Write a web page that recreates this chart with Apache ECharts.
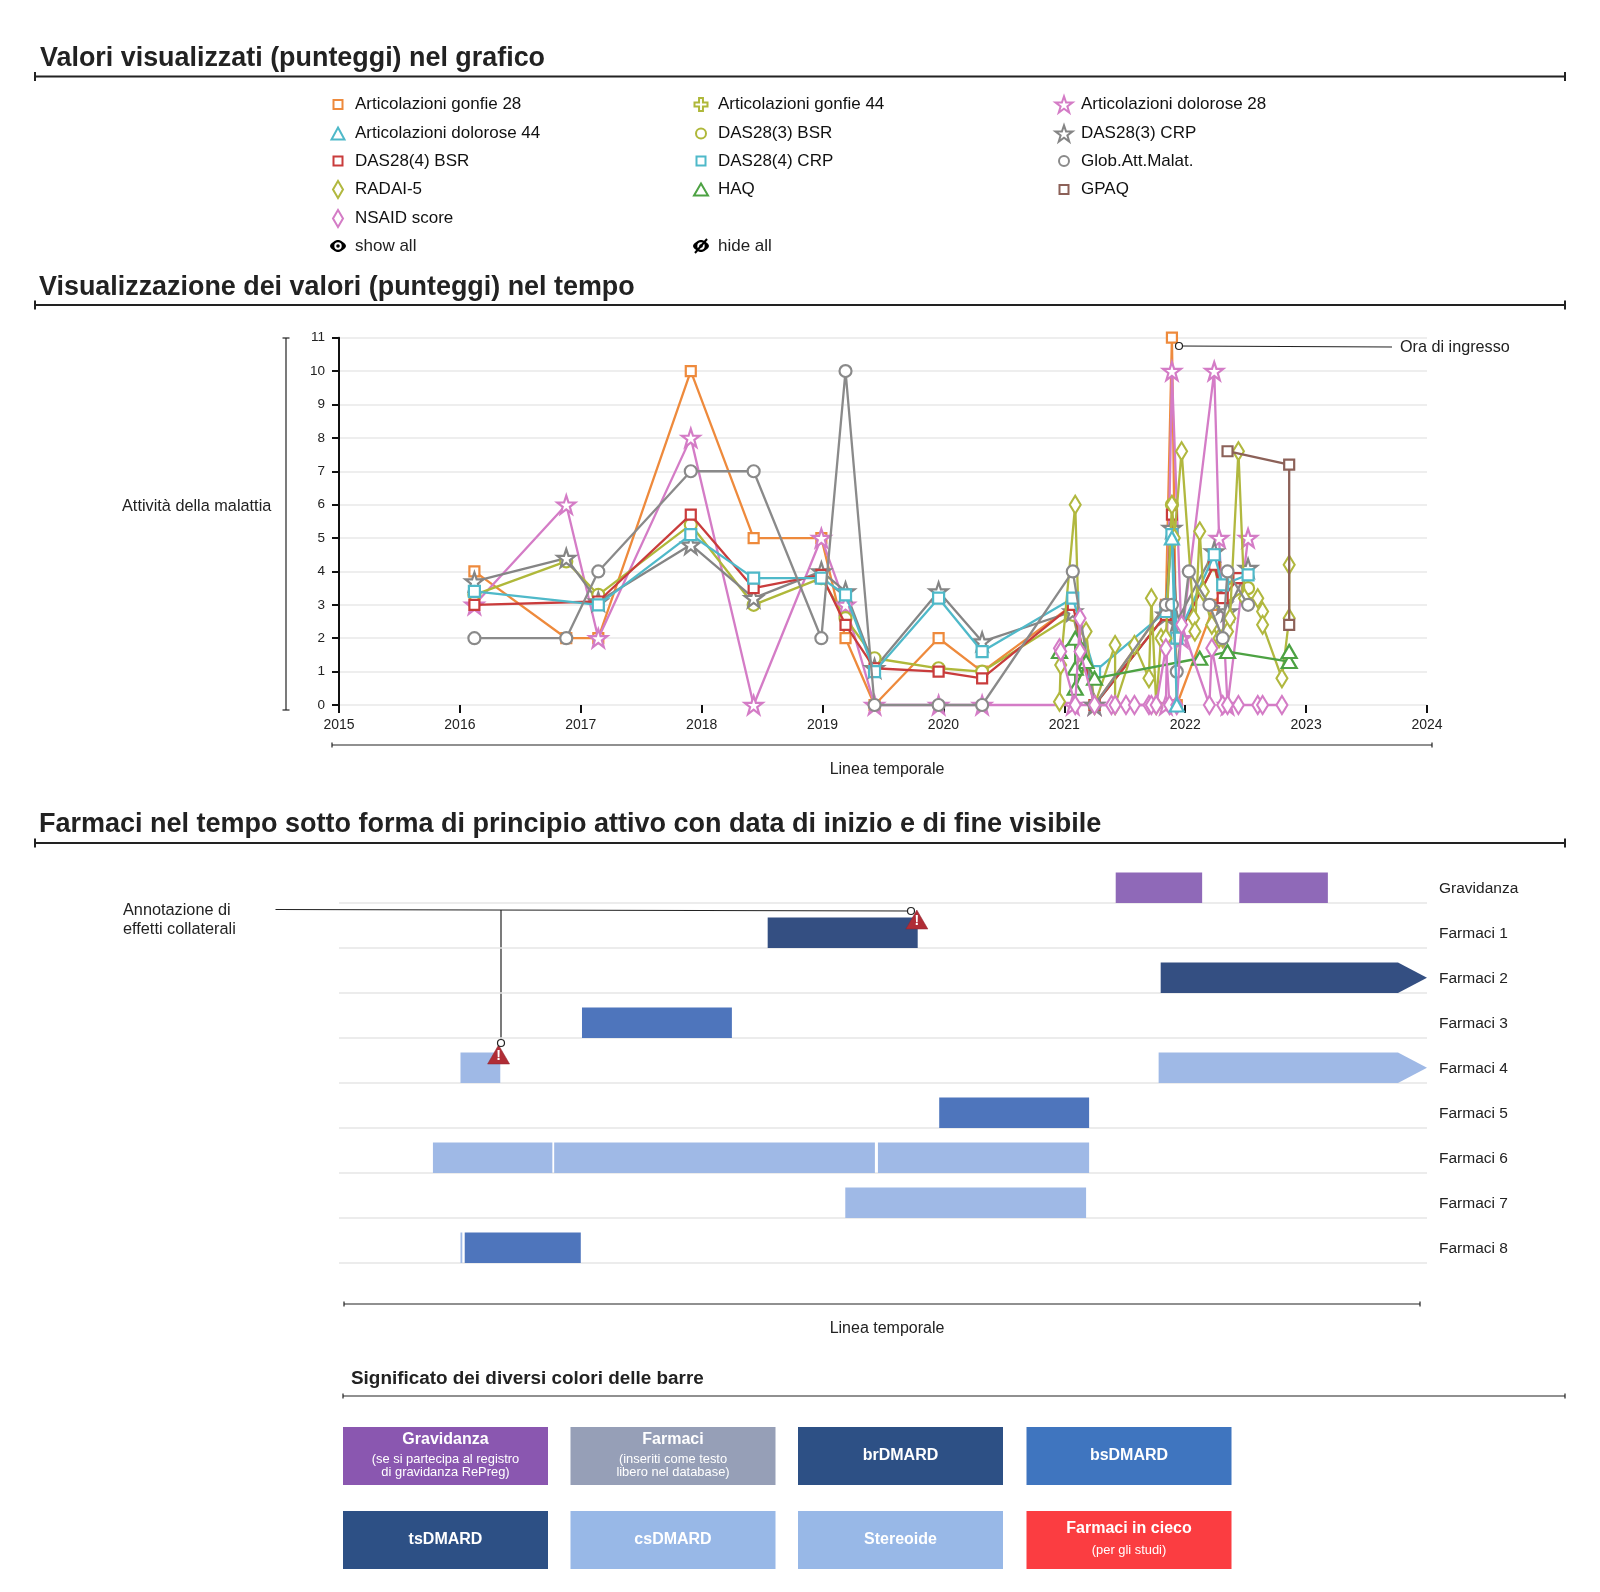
<!DOCTYPE html>
<html><head><meta charset="utf-8">
<style>html,body{margin:0;padding:0;background:#fff}#c{width:1600px;height:1592px}</style>
<script src="https://cdn.jsdelivr.net/npm/echarts@6/dist/echarts.min.js"></script>
</head><body><div id="c"></div>
<script>
const FONT = '"Liberation Sans", Arial, sans-serif';
const STAR = 'path://M50,0 L61.8,34.5 L97.6,34.5 L68.8,55.9 L79.4,90.5 L50,69 L20.6,90.5 L31.2,55.9 L2.4,34.5 L38.2,34.5 Z';
const CROSS = 'path://M35,0H65V35H100V65H65V100H35V65H0V35H35Z';

// ---- chart values (decimal year, score) ----
const gonfie28 = [[2016.12,4],[2016.88,2],[2017.145,2],[2017.91,10],[2018.43,5],[2018.99,5],[2019.19,2],[2019.43,0],[2019.96,2],[2020.32,1],[2021.07,3],[2021.25,0],[2021.84,3],[2021.89,11],[2021.93,0],[2022.24,3],[2022.31,3.5],[2022.44,3.8]];
const gonfie44 = [];
const dolorose28 = [[2016.12,3],[2016.88,6],[2017.145,2],[2017.91,8],[2018.43,0],[2018.99,5],[2019.19,3],[2019.43,0],[2019.96,0],[2020.32,0],[2021.07,0],[2021.25,0],[2021.84,0],[2021.89,10],[2021.97,2],[2022.24,10],[2022.28,5],[2022.35,0],[2022.52,5]];
const dolorose44 = [[2021.89,5],[2021.93,0]];
const das3bsr = [[2016.12,3.3],[2016.88,4.3],[2017.145,3.3],[2017.91,5.4],[2018.43,3],[2018.99,3.8],[2019.19,2.6],[2019.43,1.4],[2019.96,1.1],[2020.32,1],[2021.07,2.7],[2021.25,0],[2021.84,2.7],[2021.89,6],[2021.93,2],[2022.24,4.2],[2022.31,3],[2022.52,3.5]];
const das3crp = [[2016.12,3.7],[2016.88,4.4],[2017.145,3.1],[2017.91,4.8],[2018.43,3.2],[2018.99,4],[2019.19,3.4],[2019.43,1.1],[2019.96,3.4],[2020.32,1.9],[2021.07,2.8],[2021.25,0],[2021.84,2.7],[2021.89,5.3],[2021.93,2.5],[2022.24,4.6],[2022.31,3],[2022.35,2.8],[2022.52,4.1]];
const das4bsr = [[2016.12,3],[2017.145,3.1],[2017.91,5.7],[2018.43,3.5],[2018.99,3.9],[2019.19,2.4],[2019.43,1.1],[2019.96,1],[2020.32,0.8],[2021.07,3],[2021.25,0],[2021.84,2.7],[2021.89,5.7],[2021.93,2],[2022.24,4.2],[2022.31,3.2],[2022.44,3.8]];
const das4crp = [[2016.12,3.4],[2017.145,3],[2017.91,5.1],[2018.43,3.8],[2018.99,3.8],[2019.19,3.3],[2019.43,1],[2019.96,3.2],[2020.32,1.6],[2021.07,3.2],[2021.25,1],[2021.84,2.8],[2021.89,5.1],[2021.93,2],[2022.24,4.5],[2022.31,3.6],[2022.52,3.9]];
const globMalat = [[2016.12,2],[2016.88,2],[2017.145,4],[2017.91,7],[2018.43,7],[2018.99,2],[2019.19,10],[2019.43,0],[2019.96,0],[2020.32,0],[2021.07,4],[2021.25,0],[2021.84,3],[2021.89,3],[2021.93,1],[2022.03,4],[2022.2,3],[2022.31,2],[2022.35,4],[2022.52,3]];
const radai5 = [[2020.96,0.1],[2020.97,1.2],[2021.09,6],[2021.13,1.1],[2021.18,2.2],[2021.25,0],[2021.42,1.8],[2021.42,0],[2021.58,1.8],[2021.7,0.8],[2021.72,3.2],[2021.76,0],[2021.8,2],[2021.84,2],[2021.89,6],[2021.91,5],[2021.97,7.6],[2022.07,2.6],[2022.08,2.2],[2022.12,5.2],[2022.15,3.4],[2022.22,2.4],[2022.28,2],[2022.31,2],[2022.35,2.2],[2022.37,2.6],[2022.44,7.6],[2022.49,3.2],[2022.6,3.2],[2022.64,2.8],[2022.64,2.4],[2022.8,0.8],[2022.86,2.6],[2022.86,4.2]];
const haq = [[2020.96,1.6],[2021.09,2],[2021.09,1.1],[2021.09,0.5],[2021.18,1.3],[2021.25,0.8],[2022.12,1.4],[2022.35,1.6],[2022.86,1.3],[2022.86,1.6]];
const gpaq = [[2022.35,7.6],[2022.86,7.2],[2022.86,2.4]];
const nsaid = [[2020.96,1.7],[2020.97,1.6],[2021.09,0],[2021.13,2.6],[2021.13,1.6],[2021.25,0],[2021.39,0],[2021.42,0],[2021.51,0],[2021.58,0],[2021.7,0],[2021.72,0],[2021.76,0],[2021.84,1.7],[2021.87,0],[2021.93,0],[2021.97,2.4],[2022.2,0],[2022.22,1.7],[2022.31,0],[2022.35,0],[2022.44,0],[2022.6,0],[2022.64,0],[2022.8,0]];

const yearTicks = [2015,2016,2017,2018,2019,2020,2021,2022,2023,2024];
const scoreTicks = [0,1,2,3,4,5,6,7,8,9,10,11];

// ---- drugs ----
const drugRows = ['Gravidanza','Farmaci 1','Farmaci 2','Farmaci 3','Farmaci 4','Farmaci 5','Farmaci 6','Farmaci 7','Farmaci 8'];
const drugBars = [
 ['Gravidanza',2021.425,2022.14,'preg',0],['Gravidanza',2022.447,2023.18,'preg',0],
 ['Farmaci 1',2018.546,2019.787,'dark',0],
 ['Farmaci 2',2021.797,2024,'dark',1],
 ['Farmaci 3',2017.01,2018.25,'mid',0],
 ['Farmaci 4',2016.005,2016.334,'light',0],['Farmaci 4',2021.78,2024,'light',1],
 ['Farmaci 5',2019.965,2021.205,'mid',0],
 ['Farmaci 6',2015.777,2016.765,'light',0],['Farmaci 6',2016.78,2019.433,'light',0],['Farmaci 6',2019.458,2021.205,'light',0],
 ['Farmaci 7',2019.188,2021.18,'light',0],
 ['Farmaci 8',2016.005,2016.02,'light',0],['Farmaci 8',2016.04,2017,'mid',0]
];
const sideEffects = [[2019.78,'Farmaci 1'],[2016.32,'Farmaci 4']];
const barColors = {preg:'#8f69b8',dark:'#344f82',mid:'#4e75bc',light:'#9fb9e6'};

// ---- series definition ----
const seriesDefs = [
 {name:'Articolazioni gonfie 28',data:gonfie28,color:'#ee8a3c',symbol:'rect',size:[10,10],legend:[9,9],col:0,row:0,z:2},
 {name:'Articolazioni gonfie 44',data:gonfie44,color:'#afb83a',symbol:CROSS,size:[12,12],legend:[13,13],col:1,row:0,z:2},
 {name:'Articolazioni dolorose 28',data:dolorose28,color:'#d47cc6',symbol:STAR,size:[18,18],legend:[17,17],col:2,row:0,z:3},
 {name:'Articolazioni dolorose 44',data:dolorose44,color:'#4fb9c9',symbol:'triangle',size:[14,13],legend:[13,12],col:0,row:1,z:8},
 {name:'DAS28(3) BSR',data:das3bsr,color:'#afb83a',symbol:'circle',size:[12,12],legend:[10,10],col:1,row:1,z:3},
 {name:'DAS28(3) CRP',data:das3crp,color:'#858585',symbol:STAR,size:[18,18],legend:[17,17],col:2,row:1,z:3},
 {name:'DAS28(4) BSR',data:das4bsr,color:'#c93c3c',symbol:'rect',size:[10,10],legend:[9,9],col:0,row:2,z:4},
 {name:'DAS28(4) CRP',data:das4crp,color:'#4fb9c9',symbol:'rect',size:[11,11],legend:[9,9],col:1,row:2,z:5},
 {name:'Glob.Att.Malat.',data:globMalat,color:'#8a8a8a',symbol:'circle',size:[12,12],legend:[10,10],col:2,row:2,z:6},
 {name:'RADAI-5',data:radai5,color:'#b1b83f',symbol:'diamond',size:[11,18],legend:[10,17],col:0,row:3,z:5},
 {name:'HAQ',data:haq,color:'#4da243',symbol:'triangle',size:[15,13],legend:[14,12],col:1,row:3,z:6},
 {name:'GPAQ',data:gpaq,color:'#8c6158',symbol:'rect',size:[10,10],legend:[9,9],col:2,row:3,z:7},
 {name:'NSAID score',data:nsaid,color:'#d47cc6',symbol:'diamond',size:[11,18],legend:[10,17],col:0,row:4,z:7}
];

// ---- colour key ----
const keyBoxes = [
 ['Gravidanza','(se si partecipa al registro\ndi gravidanza RePreg)','#8a57b0'],
 ['Farmaci','(inseriti come testo\nlibero nel database)','#969fb7'],
 ['brDMARD','','#2d5085'],
 ['bsDMARD','','#3f75bf'],
 ['tsDMARD','','#2d5085'],
 ['csDMARD','','#98b8e7'],
 ['Stereoide','','#98b8e7'],
 ['Farmaci in cieco','(per gli studi)','#fb3d41']
];

// ---- layout constants ----
const colIconX = [338,701,1064], colTextX = [355,718,1081], rowY = [104,133,160.5,189,218];
const keyX = [343,570.5,798,1026.5], keyW = 205, keyY = [1427,1511], keyH = 58;
const G1 = {left:339,top:337.7,width:1088,height:367.3};
const G2 = {left:339,top:858,width:1088,height:405};

const g = [];
const txt = (x,y,text,size,opt={}) => g.push({type:'text',x,y,silent:true,z:60,style:{text,font:`${opt.bold?'bold ':''}${size}px ${FONT}`,fill:opt.fill||'#222',textAlign:opt.align||'left',textVerticalAlign:'middle'}});
const ln = (x1,y1,x2,y2,w=1,c='#222') => g.push({type:'line',silent:true,shape:{x1,y1,x2,y2},style:{stroke:c,lineWidth:w}});
const bracket = (x1,x2,y,cap,w) => { ln(x1,y,x2,y,w); ln(x1,y-cap,x1,y+cap,w); ln(x2,y-cap,x2,y+cap,w); };
const dot = (x,y) => g.push({type:'circle',silent:true,z:50,shape:{cx:x,cy:y,r:3.5},style:{fill:'#fff',stroke:'#222',lineWidth:1.2}});
const eye = (cx,cy,slash) => {
  g.push({type:'polygon',silent:true,shape:{smooth:0.4,points:[[cx-8,cy],[cx-4,cy-4.5],[cx,cy-6],[cx+4,cy-4.5],[cx+8,cy],[cx+4,cy+4.5],[cx,cy+6],[cx-4,cy+4.5]]},style:{fill:'#000'}});
  g.push({type:'circle',silent:true,shape:{cx,cy,r:3.7},style:{fill:'#fff'}});
  g.push({type:'circle',silent:true,shape:{cx,cy,r:1.8},style:{fill:'#000'}});
  if (slash) ln(cx-6,cy+7,cx+6,cy-7,2,'#000');
};

// headings
txt(40,59,'Valori visualizzati (punteggi) nel grafico',26.9,{bold:1});
bracket(35,1565,76.5,4.5,2);
txt(39,287.5,'Visualizzazione dei valori (punteggi) nel tempo',26.9,{bold:1});
bracket(35,1565,305,4.5,2);
txt(39,824.5,'Farmaci nel tempo sotto forma di principio attivo con data di inizio e di fine visibile',27,{bold:1});
bracket(35,1565,843,4.5,2);
txt(351,1379,'Significato dei diversi colori delle barre',18.9,{bold:1});
bracket(343,1565,1396,2.5,1.2);

// show / hide
eye(338,246,false);
eye(701,246,true);
txt(colTextX[0],246.5,'show all',17);
txt(colTextX[1],246.5,'hide all',17);

// side captions for line chart
ln(286,338,286,710,1.2); ln(282.5,338,289.5,338,1.2); ln(282.5,710,289.5,710,1.2);
txt(122,506.5,'Attività della malattia',16.3);
bracket(332,1432,745,2.5,1.2);
txt(887,770,'Linea temporale',16,{align:'center'});
ln(1179,346,1392,347,1.2);
dot(1179,346);
txt(1400,347.5,'Ora di ingresso',16.2);

// gantt captions
txt(123,911,'Annotazione di',16.3);
txt(123,929.5,'effetti collaterali',16.3);
ln(275.5,909.5,911,911,1.2);
ln(501,910,501,1043,1.2);
dot(911,911); dot(501,1043);
bracket(344,1420,1304,2.5,1.2);
txt(887,1328.5,'Linea temporale',16,{align:'center'});

// colour key boxes
keyBoxes.forEach((b,i)=>{
  const x = keyX[i%4], y = keyY[i<4?0:1];
  g.push({type:'rect',silent:true,shape:{x,y,width:keyW,height:keyH},style:{fill:b[2]}});
  const cx = x+keyW/2;
  const subLines = b[1] ? b[1].split('\n') : [];
  if (!subLines.length) {
    txt(cx,y+keyH/2,b[0],16,{bold:1,fill:'#fff',align:'center'});
  } else if (subLines.length===2) {
    txt(cx,y+13,b[0],16,{bold:1,fill:'#fff',align:'center'});
    txt(cx,y+32,subLines[0],12.9,{fill:'#fff',align:'center'});
    txt(cx,y+45,subLines[1],12.9,{fill:'#fff',align:'center'});
  } else {
    txt(cx,y+18,b[0],16,{bold:1,fill:'#fff',align:'center'});
    txt(cx,y+39,subLines[0],12.9,{fill:'#fff',align:'center'});
  }
});

const legends = seriesDefs.map(s=>({
  show:true, selectedMode:false, orient:'horizontal', padding:0,
  left: colIconX[s.col]-1-s.legend[0]/2, top: rowY[s.row]-9.5,
  itemWidth:s.legend[0], itemHeight:s.legend[1], itemGap:0,
  data:[{name:s.name,icon:s.symbol}],
  textStyle:{fontFamily:FONT,fontSize:17,color:'#111',lineHeight:20,padding:[0,0,0,colTextX[s.col]-(colIconX[s.col]+s.legend[0]/2)-5]}
}));

const lineSeries = seriesDefs.map(s=>({
  type:'line', name:s.name, xAxisIndex:0, yAxisIndex:0, data:s.data, z:s.z,
  symbol:s.symbol, symbolSize:s.size, showAllSymbol:true, clip:false,
  lineStyle:{color:s.color,width:2.3}, 
  itemStyle:{color:'#fff',borderColor:s.color,borderWidth:2.2},
  emphasis:{disabled:true}
}));

const ganttSeries = {
  type:'custom', xAxisIndex:1, yAxisIndex:1, clip:false, z:2,
  data: drugBars.map(b=>[b[1],b[2],b[0],b[3],b[4]]),
  encode:{x:[0,1],y:2},
  renderItem:(p,api)=>{
    const row = api.value(2), kind = drugBars[p.dataIndex][3], arrow = drugBars[p.dataIndex][4];
    const a = api.coord([api.value(0),row]), b = api.coord([api.value(1),row]);
    const band = api.size([0,1])[1];
    const bottom = a[1]+band/2, top = bottom-30.5;
    const fill = barColors[kind];
    if (arrow) {
      const neck = b[0]-29;
      return {type:'polygon',shape:{points:[[a[0],top],[neck,top],[b[0],(top+bottom)/2],[neck,bottom],[a[0],bottom]]},style:{fill}};
    }
    return {type:'rect',shape:{x:a[0],y:top,width:b[0]-a[0],height:bottom-top},style:{fill}};
  }
};

const warnSeries = {
  type:'scatter', xAxisIndex:1, yAxisIndex:1, data:sideEffects, z:5, clip:false,
  symbol:'triangle', symbolSize:[22,19], symbolOffset:[0,-6],
  itemStyle:{color:'#b02d36',borderColor:'#8e2630',borderWidth:0.5,opacity:1},
  label:{show:true,position:'inside',offset:[0,2],formatter:'!',color:'#fff',fontWeight:'bold',fontSize:14,fontFamily:FONT}
};

const option = {
  animation:false, backgroundColor:'#fff', textStyle:{fontFamily:FONT},
  legend:legends, tooltip:{show:false},
  grid:[Object.assign({},G1),Object.assign({},G2)],
  xAxis:[
    {gridIndex:0,type:'value',min:yearTicks[0],max:yearTicks[yearTicks.length-1],interval:1,
     axisLine:{show:false},splitLine:{show:false},
     axisTick:{show:true,length:8,lineStyle:{color:'#111',width:2}},
     axisLabel:{color:'#222',fontSize:14,margin:13,fontFamily:FONT,formatter:v=>String(v),hideOverlap:false,showMinLabel:true,showMaxLabel:true}},
    {gridIndex:1,type:'value',min:yearTicks[0],max:yearTicks[yearTicks.length-1],interval:1,show:false}
  ],
  yAxis:[
    {gridIndex:0,type:'value',min:scoreTicks[0],max:scoreTicks[scoreTicks.length-1],interval:1,
     axisLine:{show:true,onZero:false,lineStyle:{color:'#111',width:2}},
     axisTick:{show:true,length:7,lineStyle:{color:'#111',width:2}},
     splitLine:{show:true,lineStyle:{color:'#e9e9e9',width:1.5}},
     axisLabel:{color:'#222',fontSize:13.5,margin:14,fontFamily:FONT}},
    {gridIndex:1,type:'category',data:drugRows,inverse:true,position:'right',
     axisLine:{show:false},axisTick:{show:false},
     splitLine:{show:true,interval:0,showMinLine:false,lineStyle:{color:'#e6e6e6',width:1.5}},
     axisLabel:{color:'#222',fontSize:15.5,margin:12,interval:0,fontFamily:FONT,verticalAlign:'top',lineHeight:16}}
  ],
  series:[...lineSeries,ganttSeries,warnSeries],
  graphic:{elements:g}
};
const chart = echarts.init(document.getElementById('c'),null,{renderer:'canvas',width:1600,height:1592});
chart.setOption(option);
</script></body></html>
